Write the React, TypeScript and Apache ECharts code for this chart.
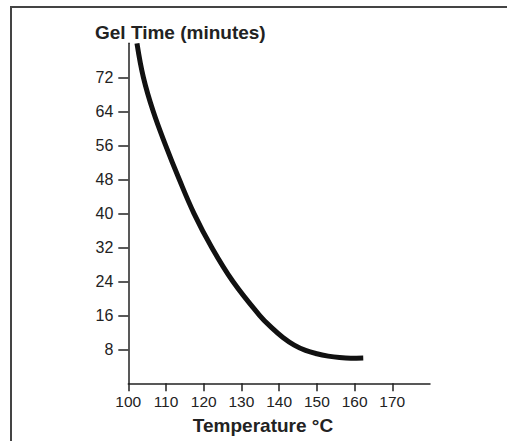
import React, { useEffect, useRef } from "react";
import * as echarts from "echarts";

const temperatures = [102.3, 104.0, 106.6, 109.9, 113.5, 117.4, 122.1, 127.7, 134.8, 138, 141, 144, 147, 150, 153, 156, 159, 162.3];
const gelTimes = [80, 72, 64, 56, 48, 40, 32, 24, 16, 13.1, 10.8, 9.0, 7.75, 6.95, 6.4, 6.05, 5.9, 5.95];
const xTicks = [100, 110, 120, 130, 140, 150, 160, 170];
const yTicks = [8, 16, 24, 32, 40, 48, 56, 64, 72];
const yTitle = "Gel Time (minutes)";
const xTitle = "Temperature °C";

export default function App() {
  const ref = useRef<HTMLDivElement>(null);
  useEffect(() => {
    if (!ref.current) return;
    const chart = echarts.init(ref.current, null, { renderer: "svg" });
    const font = "Liberation Sans";
    chart.setOption({
      animation: false,
      backgroundColor: "#ffffff",
      textStyle: { fontFamily: font },
      grid: { left: 128.3, right: 77, top: 43.3, bottom: 57.7, containLabel: false },
      xAxis: {
        type: "value",
        min: 100,
        max: 180,
        interval: 10,
        splitLine: { show: false },
        axisLine: { show: true, lineStyle: { color: "#222", width: 1.5 } },
        axisTick: { show: true, length: 8, customValues: xTicks, lineStyle: { color: "#222", width: 1.5 } },
        axisLabel: {
          margin: 10,
          fontSize: 15.5,
          color: "#222",
          fontFamily: font,
          formatter: (v: number) => (xTicks.indexOf(v) >= 0 ? String(v) : ""),
        },
      },
      yAxis: {
        type: "value",
        min: 0,
        max: 80,
        interval: 8,
        splitLine: { show: false },
        axisLine: { show: true, lineStyle: { color: "#222", width: 1.5 } },
        axisTick: { show: true, length: 10, customValues: yTicks, lineStyle: { color: "#222", width: 1.5 } },
        axisLabel: {
          margin: 15,
          fontSize: 16,
          color: "#222",
          fontFamily: font,
          formatter: (v: number) => (yTicks.indexOf(v) >= 0 ? String(v) : ""),
        },
      },
      series: [
        {
          type: "line",
          data: temperatures.map((t, i) => [t, gelTimes[i]]),
          smooth: 0.4,
          showSymbol: false,
          symbol: "none",
          lineStyle: { color: "#111", width: 5, cap: "butt" },
        },
      ],
      graphic: [
        { type: "line", shape: { x1: 10, y1: 7, x2: 507, y2: 7 }, style: { stroke: "#444", lineWidth: 2 } },
        { type: "line", shape: { x1: 11, y1: 6, x2: 11, y2: 441 }, style: { stroke: "#444", lineWidth: 2 } },
        {
          type: "text",
          x: 95,
          y: 32.3,
          style: { text: yTitle, font: `bold 19px ${font}`, fill: "#222", textAlign: "left", textVerticalAlign: "middle" },
        },
        {
          type: "text",
          x: 263,
          y: 425,
          style: { text: xTitle, font: `bold 19px ${font}`, fill: "#222", textAlign: "center", textVerticalAlign: "middle" },
        },
      ],
    });
    return () => chart.dispose();
  }, []);
  return <div ref={ref} style={{ position: "absolute", left: 0, top: 0, width: 507, height: 441 }} />;
}
